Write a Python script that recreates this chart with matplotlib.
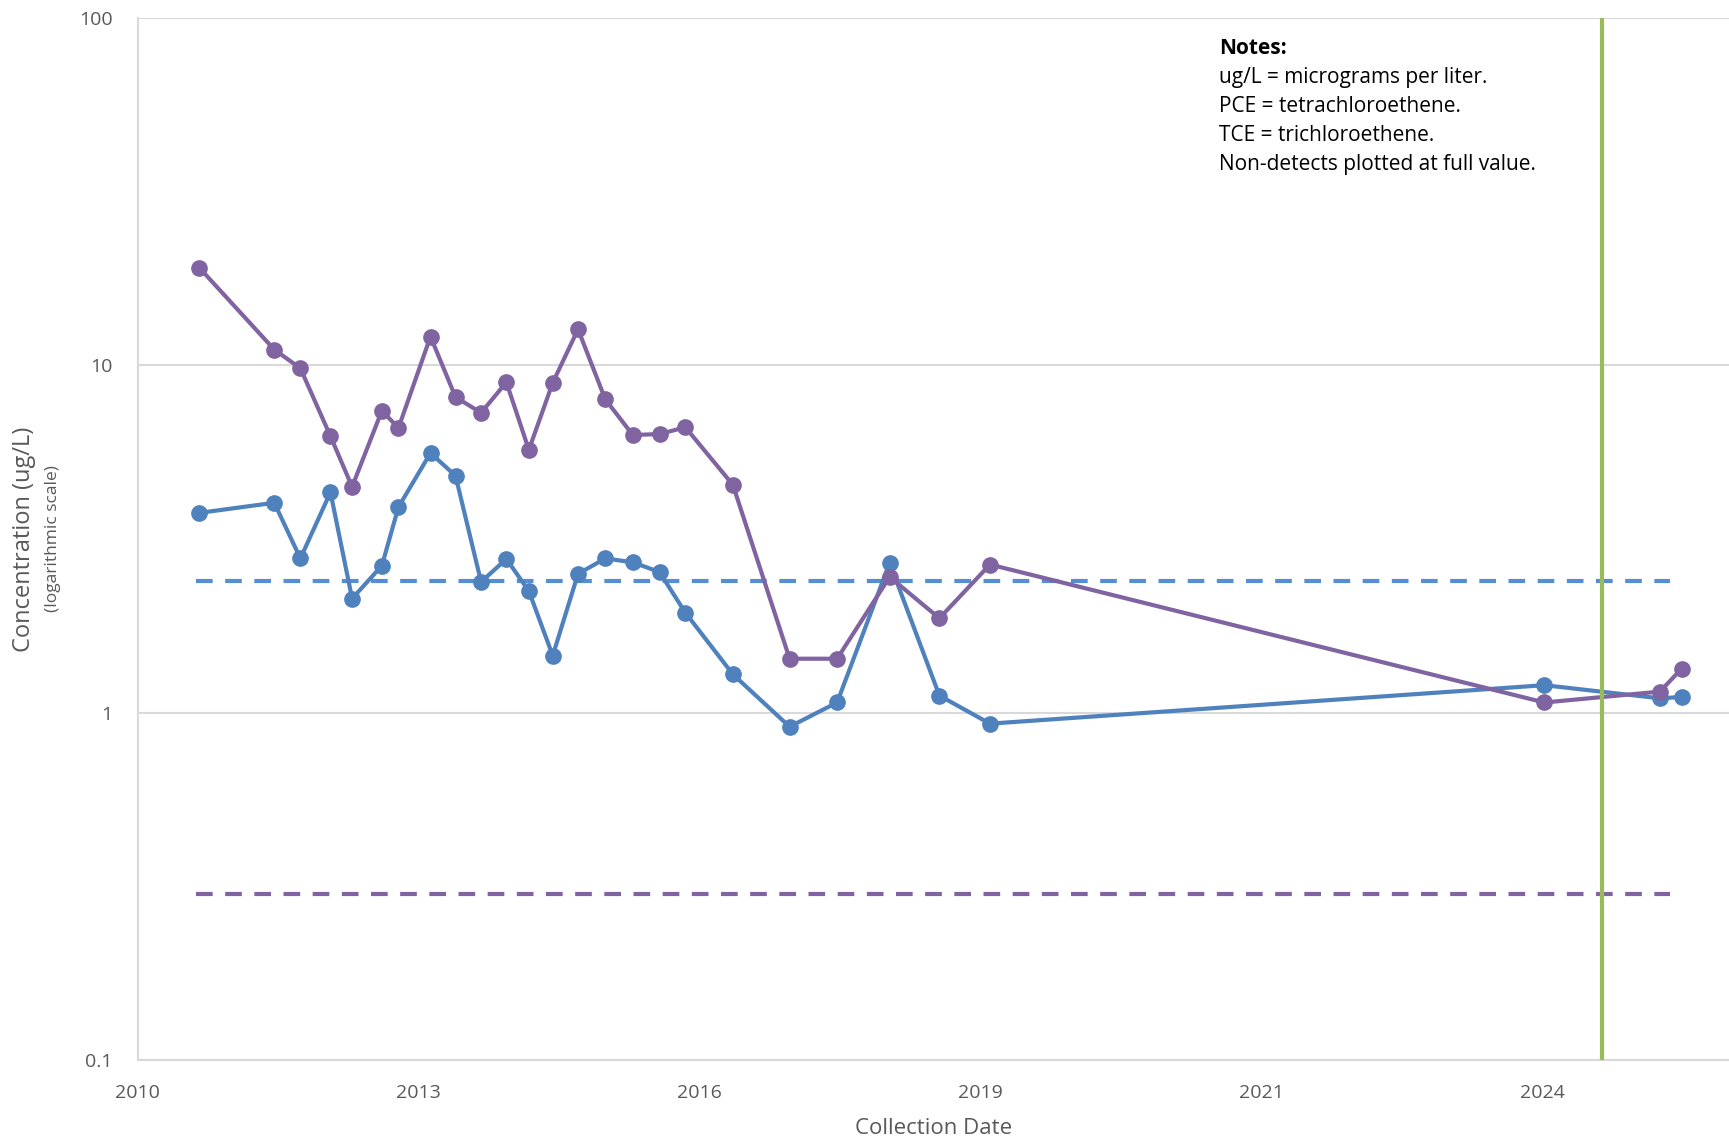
import pandas as pd
import matplotlib
matplotlib.use("Agg")
import matplotlib.pyplot as plt

# --- data ---
dates = ["2011-06-25", "2012-03-18", "2012-06-19", "2012-10-04", "2012-12-20",
         "2013-04-05", "2013-06-03", "2013-09-25", "2013-12-23", "2014-03-24",
         "2014-06-22", "2014-09-10", "2014-12-04", "2015-03-04", "2015-06-09",
         "2015-09-15", "2015-12-19", "2016-03-20", "2016-09-05", "2017-03-26",
         "2017-09-11", "2018-03-17", "2018-09-10", "2019-03-09", "2024-08-02",
         "2025-09-17", "2025-12-04"]

pce = [19.1, 11.1, 9.8, 6.25, 4.47, 7.4, 6.6, 12.1, 8.1, 7.3,
       8.94, 5.71, 8.91, 12.7, 7.98, 6.3, 6.34, 6.63, 4.53, 1.43,
       1.43, 2.46, 1.87, 2.67, 1.07, 1.15, 1.34]

tce = [3.76, 4.02, 2.78, 4.31, 2.13, 2.65, 3.91, 5.59, 4.81, 2.38,
       2.77, 2.24, 1.46, 2.51, 2.78, 2.71, 2.54, 1.94, 1.29, 0.911,
       1.07, 2.70, 1.12, 0.93, 1.20, 1.10, 1.11]

tce_screen = 2.4
pce_screen = 0.3
screen_span = ["2011-06-14", "2025-10-23"]
event_date = "2025-02-22"

axis_start = "2010-11-18"
tick_step_days = 1000
n_ticks = 6
axis_days = 5663

notes = ["ug/L = micrograms per liter.",
         "PCE = tetrachloroethene.",
         "TCE = trichloroethene.",
         "Non-detects plotted at full value."]

# --- colours ---
BLUE = "#4F81BD"
PURPLE = "#8064A2"
BLUE_DASH = "#558ED5"
GREEN = "#9BBB59"
GRID = "#D9D9D9"
TXT = "#595959"

plt.rcParams['font.family'] = ['Open Sans', 'DejaVu Sans']

fig = plt.figure(figsize=(17.29, 11.44), dpi=100)
ax = fig.add_axes([137.7 / 1729, 1 - 1060.1 / 1144, 1 - 137.7 / 1729, (1060.1 - 17.9) / 1144])

x = pd.to_datetime(dates)
t0 = pd.Timestamp(axis_start)

# screening levels
span = pd.to_datetime(screen_span)
ax.plot(span, [tce_screen, tce_screen], color=BLUE_DASH, lw=3, ls=(0, (4, 3)), zorder=2)
ax.plot(span, [pce_screen, pce_screen], color=PURPLE, lw=3, ls=(0, (4, 3)), zorder=2)

# series
ax.plot(x, tce, '-o', color=BLUE, lw=3, markersize=11, zorder=3)
ax.plot(x, pce, '-o', color=PURPLE, lw=3, markersize=11, zorder=4)

ax.axvline(pd.Timestamp(event_date), color=GREEN, lw=3, zorder=5)

# --- axes ---
ax.set_yscale('log')
ax.set_ylim(0.1, 100)
ax.set_yticks([0.1, 1, 10, 100])
ax.set_yticklabels(["0.1", "1", "10", "100"])
ax.yaxis.set_minor_locator(matplotlib.ticker.NullLocator())

ticks = [t0 + pd.Timedelta(days=tick_step_days * k) for k in range(n_ticks)]
ax.set_xticks(ticks)
ax.set_xticklabels([t.strftime("%Y") for t in ticks])
ax.set_xlim(t0, t0 + pd.Timedelta(days=axis_days))

ax.tick_params(length=0, labelsize=14, colors=TXT)
ax.tick_params(axis='x', pad=17)
ax.tick_params(axis='y', pad=18)
ax.grid(axis='y', color=GRID, lw=1.5)
ax.set_axisbelow(True)
for s in ['top', 'right']:
    ax.spines[s].set_visible(False)
for s in ['left', 'bottom']:
    ax.spines[s].set_color(GRID)
    ax.spines[s].set_linewidth(1.5)

ax.set_xlabel("Collection Date", fontsize=16, color=TXT, labelpad=12)
fig.text(24 / 1729, 1 - 539 / 1144, "Concentration (ug/L)", rotation=90, fontsize=17,
         color=TXT, ha='center', va='center')
fig.text(53 / 1729, 1 - 539 / 1144, "(logarithmic scale)", rotation=90, fontsize=12.5,
         color=TXT, ha='center', va='center')

# notes box
fig.text(1219 / 1729, 1 - 48 / 1144, "Notes:", fontsize=15, fontweight='bold',
         color='black', ha='left', va='center')
for i, line in enumerate(notes):
    fig.text(1219 / 1729, 1 - (48 + 29.2 * (i + 1)) / 1144, line, fontsize=15,
             color='black', ha='left', va='center')

fig.savefig("out.png", dpi=100)
